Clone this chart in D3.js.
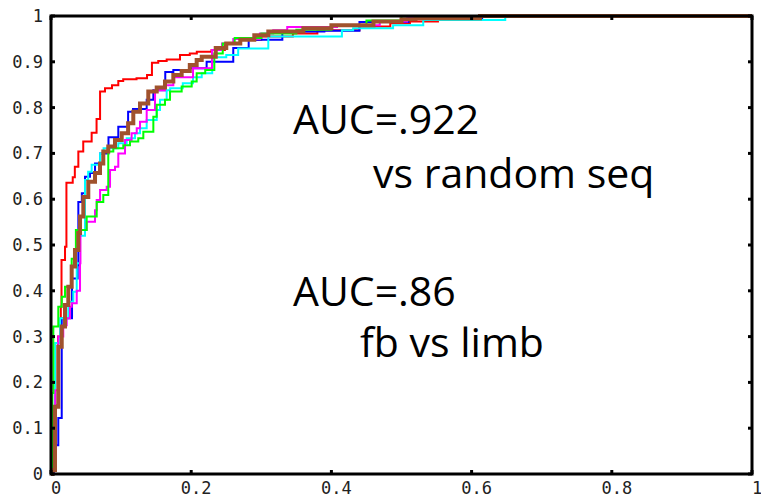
<!DOCTYPE html>
<html><head><meta charset="utf-8">
<script src="https://cdn.jsdelivr.net/npm/d3@7"></script>
<style>html,body{margin:0;padding:0;background:#fff;}svg{display:block;}</style>
</head><body><svg id="chart" width="761" height="498"></svg>
<script>
// ROC curves: [false positive rate, true positive rate] step corners
const redSeries = [[0,0],[0.003,0.03],[0.006,0.15],[0.010,0.30],[0.014,0.365],[0.015,0.467],[0.020,0.496],[0.022,0.636],[0.031,0.648],[0.034,0.671],[0.039,0.704],[0.046,0.726],[0.058,0.745],[0.065,0.775],[0.070,0.835],[0.077,0.842],[0.087,0.849],[0.096,0.858],[0.103,0.862],[0.122,0.864],[0.137,0.871],[0.144,0.898],[0.153,0.902],[0.165,0.905],[0.184,0.915],[0.198,0.918],[0.208,0.922],[0.229,0.926],[0.248,0.940],[0.27,0.948],[0.30,0.955],[0.345,0.962],[0.38,0.969],[0.44,0.977],[0.484,0.984],[0.512,0.988],[0.552,1.0],[1,1]];
const blueSeries = [[0,0],[0.003,0.063],[0.0104,0.122],[0.0153,0.340],[0.030,0.427],[0.038,0.456],[0.039,0.594],[0.044,0.613],[0.0485,0.649],[0.0556,0.657],[0.0628,0.678],[0.070,0.700],[0.082,0.735],[0.096,0.758],[0.110,0.791],[0.117,0.797],[0.1365,0.817],[0.146,0.838],[0.163,0.878],[0.1745,0.882],[0.198,0.886],[0.222,0.900],[0.26,0.93],[0.282,0.948],[0.33,0.966],[0.39,0.968],[0.44,0.987],[0.51,0.995],[0.615,1.0],[1,1]];
const cyanSeries = [[0,0],[0.002,0.10],[0.006,0.286],[0.013,0.340],[0.0247,0.376],[0.0318,0.398],[0.0367,0.46],[0.0414,0.52],[0.0485,0.642],[0.053,0.66],[0.058,0.675],[0.070,0.700],[0.075,0.711],[0.096,0.722],[0.108,0.733],[0.1198,0.744],[0.127,0.755],[0.1365,0.773],[0.1508,0.795],[0.1555,0.817],[0.165,0.838],[0.17,0.842],[0.188,0.853],[0.2026,0.866],[0.215,0.875],[0.23,0.91],[0.25,0.915],[0.267,0.929],[0.31,0.955],[0.415,0.969],[0.431,0.973],[0.488,0.98],[0.531,0.991],[0.648,1.0],[1,1]];
const magentaSeries = [[0,0],[0.004,0.136],[0.006,0.183],[0.0104,0.30],[0.0175,0.325],[0.0224,0.34],[0.0271,0.365],[0.0295,0.373],[0.0367,0.40],[0.0414,0.46],[0.042,0.533],[0.0509,0.551],[0.0628,0.576],[0.0652,0.598],[0.070,0.62],[0.0795,0.627],[0.0842,0.664],[0.0913,0.671],[0.096,0.70],[0.1056,0.729],[0.115,0.744],[0.1223,0.755],[0.127,0.769],[0.1365,0.795],[0.1484,0.838],[0.1626,0.849],[0.1745,0.866],[0.2026,0.886],[0.2297,0.926],[0.244,0.94],[0.26,0.95],[0.298,0.962],[0.317,0.969],[0.337,0.976],[0.408,0.98],[0.469,0.988],[0.508,0.995],[0.55,1.0],[1,1]];
const greenSeries = [[0,0],[0.002,0.177],[0.0033,0.322],[0.0104,0.365],[0.0153,0.387],[0.020,0.409],[0.0295,0.47],[0.0355,0.533],[0.0509,0.562],[0.0652,0.594],[0.0746,0.609],[0.0817,0.704],[0.0889,0.711],[0.1031,0.718],[0.1127,0.726],[0.1245,0.733],[0.1317,0.747],[0.146,0.78],[0.1508,0.806],[0.1626,0.817],[0.1698,0.835],[0.1864,0.846],[0.2007,0.857],[0.2078,0.875],[0.22,0.882],[0.233,0.918],[0.245,0.94],[0.262,0.952],[0.30,0.962],[0.35,0.97],[0.40,0.98],[0.45,0.99],[0.50,1.0],[1,1]];
const brownSeries = [[0,0],[0.0014,0.009],[0.0057,0.147],[0.0104,0.278],[0.0153,0.322],[0.020,0.369],[0.0247,0.409],[0.0295,0.453],[0.0342,0.489],[0.039,0.526],[0.0414,0.562],[0.0461,0.605],[0.0532,0.638],[0.0628,0.657],[0.0699,0.678],[0.0746,0.704],[0.0817,0.715],[0.0913,0.729],[0.1009,0.744],[0.110,0.766],[0.1174,0.791],[0.127,0.809],[0.1388,0.835],[0.1508,0.844],[0.1626,0.857],[0.1745,0.871],[0.1864,0.88],[0.198,0.893],[0.2078,0.904],[0.215,0.911],[0.235,0.93],[0.25,0.94],[0.27,0.948],[0.29,0.958],[0.31,0.966],[0.36,0.973],[0.40,0.98],[0.46,0.988],[0.50,0.993],[0.52,0.995],[0.612,1.0],[1,1]];

const seriesList = [
  {data: redSeries, color: "#ff0000", width: 2},
  {data: blueSeries, color: "#0000ff", width: 2},
  {data: cyanSeries, color: "#00ffff", width: 2},
  {data: magentaSeries, color: "#ff00ff", width: 2},
  {data: greenSeries, color: "#00ff00", width: 2},
  {data: brownSeries, color: "#a0522d", width: 4}
];
const xTicks = [0, 0.2, 0.4, 0.6, 0.8, 1];
const xTickLabels = ["0", "0.2", "0.4", "0.6", "0.8", "1"];
const yTicks = [0, 0.1, 0.2, 0.3, 0.4, 0.5, 0.6, 0.7, 0.8, 0.9, 1];
const yTickLabels = ["0", "0.1", "0.2", "0.3", "0.4", "0.5", "0.6", "0.7", "0.8", "0.9", "1"];
const annotations = [
  {text: "AUC=.922", x: 293, y: 134},
  {text: "vs random seq", x: 373, y: 188},
  {text: "AUC=.86", x: 293, y: 306},
  {text: "fb vs limb", x: 360, y: 357}
];

const svg = d3.select("#chart");
const L = 51, R = 752, T = 16, B = 474;
const x = d3.scaleLinear().domain([0, 1]).range([L, R]);
const y = d3.scaleLinear().domain([0, 1]).range([B, T]);

const line = d3.line().x(d => x(d[0])).y(d => y(d[1])).curve(d3.curveStepAfter);
svg.append("g").selectAll("path").data(seriesList).join("path")
  .attr("d", d => line(d.data))
  .attr("fill", "none")
  .attr("stroke", d => d.color)
  .attr("stroke-width", d => d.width)
  .attr("stroke-linejoin", "miter");

// axes box
const axisColor = "#000";
svg.append("rect").attr("x", L).attr("y", T).attr("width", R - L).attr("height", B - T)
  .attr("fill", "none").attr("stroke", axisColor).attr("stroke-width", 3);

const tickLen = 4;
const labelFont = "DejaVu Sans Mono, monospace";
const gx = svg.append("g");
gx.selectAll("line.b").data(xTicks).join("line").attr("class", "b")
  .attr("x1", d => x(d)).attr("x2", d => x(d)).attr("y1", B).attr("y2", B - tickLen)
  .attr("stroke", axisColor).attr("stroke-width", 3);
gx.selectAll("line.t").data(xTicks).join("line").attr("class", "t")
  .attr("x1", d => x(d)).attr("x2", d => x(d)).attr("y1", T).attr("y2", T + tickLen)
  .attr("stroke", axisColor).attr("stroke-width", 3);
gx.selectAll("text").data(xTicks).join("text")
  .attr("x", d => x(d) + 5).attr("y", 494)
  .attr("text-anchor", "middle")
  .attr("font-family", labelFont).attr("font-size", 17).attr("fill", "#222")
  .text((d, i) => xTickLabels[i]);

const gy = svg.append("g");
gy.selectAll("line.l").data(yTicks).join("line").attr("class", "l")
  .attr("y1", d => y(d)).attr("y2", d => y(d)).attr("x1", L).attr("x2", L + tickLen)
  .attr("stroke", axisColor).attr("stroke-width", 3);
gy.selectAll("line.r").data(yTicks).join("line").attr("class", "r")
  .attr("y1", d => y(d)).attr("y2", d => y(d)).attr("x1", R).attr("x2", R - tickLen)
  .attr("stroke", axisColor).attr("stroke-width", 3);
gy.selectAll("text").data(yTicks).join("text")
  .attr("x", 43).attr("y", d => y(d) + 6)
  .attr("text-anchor", "end")
  .attr("font-family", labelFont).attr("font-size", 17).attr("fill", "#222")
  .text((d, i) => yTickLabels[i]);

svg.append("g").selectAll("text").data(annotations).join("text")
  .attr("x", d => d.x).attr("y", d => d.y)
  .attr("font-family", "Open Sans, sans-serif").attr("font-size", 41).attr("fill", "#000")
  .text(d => d.text);
</script></body></html>
